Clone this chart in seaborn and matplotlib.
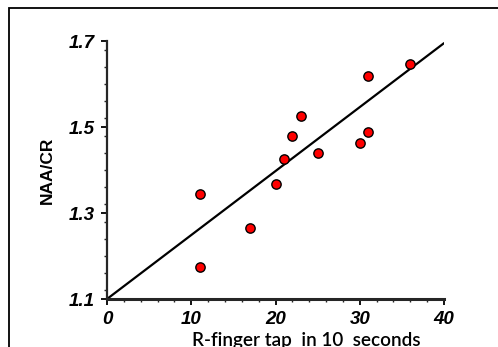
import matplotlib.pyplot as plt
import matplotlib.patches as mpatches
from matplotlib.ticker import MultipleLocator
import seaborn as sns
import pandas as pd

# Data
finger_taps = [11, 11, 17, 20, 21, 22, 23, 25, 30, 31, 31, 36]
naa_cr = [1.344, 1.175, 1.265, 1.367, 1.426, 1.478, 1.526, 1.440, 1.462, 1.488, 1.619, 1.647]
trend_x = [0, 40]
trend_y = [1.10, 1.695]
x_ticks = [0, 10, 20, 30, 40]
y_ticks = [1.1, 1.3, 1.5, 1.7]

sns.set_theme(style="white")
plt.rcParams.update({
    'font.family': ['Liberation Sans', 'DejaVu Sans'],
    'axes.linewidth': 1.6,
    'text.color': 'black',
    'axes.labelcolor': 'black',
})

df = pd.DataFrame({'taps': finger_taps, 'ratio': naa_cr})

fig = plt.figure(figsize=(4.98, 3.47), dpi=100)
ax = fig.add_axes([107 / 498, 1 - 299 / 347, (444 - 107) / 498, (299 - 41) / 347])

# outer frame (cropped on right and bottom)
fig.patches.append(mpatches.Rectangle((9 / 498, -0.2), 1.2, 1 - 8 / 347 + 0.2,
                                      transform=fig.transFigure, fill=False,
                                      edgecolor='black', linewidth=1.3))

ax.plot(trend_x, trend_y, color='black', linewidth=1.6, zorder=2)
sns.scatterplot(data=df, x='taps', y='ratio', ax=ax, color='#ff0000',
                edgecolor='black', linewidth=1.0, s=45, zorder=3)

ax.set_xlim(0, 40)
ax.set_ylim(1.1, 1.7)
ax.set_xticks(x_ticks)
ax.set_yticks(y_ticks)
ax.set_yticklabels([f'{v:.1f}' for v in y_ticks])
ax.xaxis.set_minor_locator(MultipleLocator(2))
ax.yaxis.set_minor_locator(MultipleLocator(0.04))
ax.tick_params(which='major', direction='out', length=4, width=1.3, pad=5,
               bottom=True, left=True, labelsize=13.5, colors='black')
ax.tick_params(which='minor', direction='out', length=2.5, width=1.0,
               bottom=True, left=True)
for lab in ax.get_xticklabels() + ax.get_yticklabels():
    lab.set_fontweight('bold')
    lab.set_fontstyle('italic')

sns.despine(ax=ax)
ax.spines['bottom'].set_linewidth(2.2)
ax.spines['left'].set_linewidth(1.6)

ax.set_ylabel('NAA/CR', fontsize=12.5, fontweight='bold', labelpad=10)
ax.set_xlabel('R-finger tap  in 10  seconds', fontsize=13.6, color='black',
              family=['Lato', 'DejaVu Sans'], fontweight='semibold')
ax.xaxis.set_label_coords(0.59, -0.126)

fig.savefig('out.png', dpi=100)
